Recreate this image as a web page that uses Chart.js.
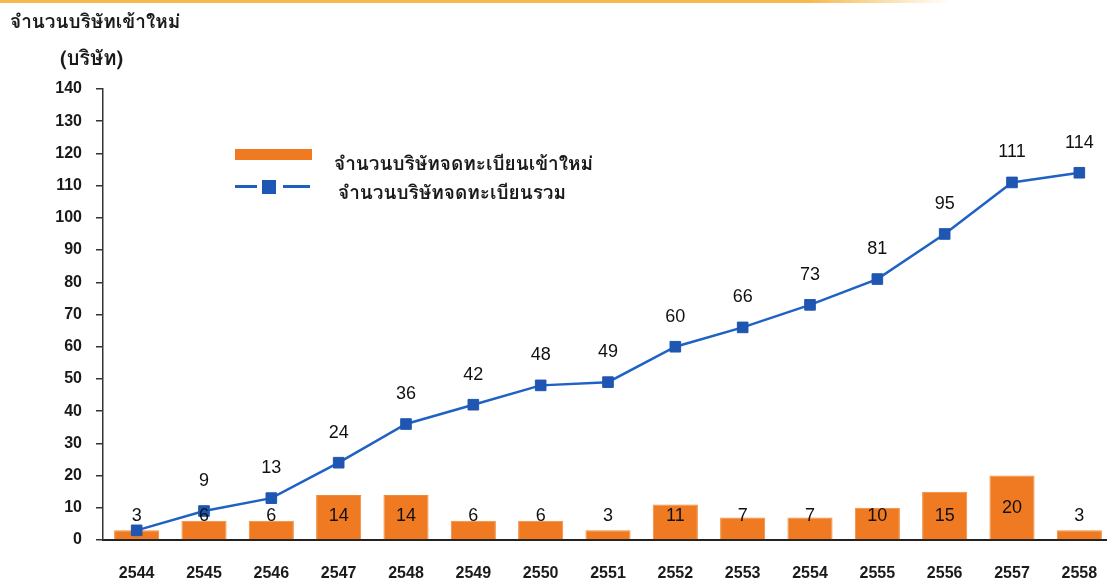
<!DOCTYPE html>
<html>
<head>
<meta charset="utf-8">
<script src="https://cdn.jsdelivr.net/npm/chart.js@4/dist/chart.umd.min.js"></script>
<style>
  html,body{margin:0;padding:0;background:#fff;overflow:hidden;width:1107px;height:581px;}
  #wrap{position:relative;width:1113px;height:581px;overflow:hidden;}
  #topline{position:absolute;left:0;top:0;width:950px;height:3px;background:linear-gradient(to right,#f6b94c 0%,#f6b94c 85%,rgba(246,185,76,0) 100%);}
  .thai{font-family:"Garuda","Loma","Waree","Norasi","Kinnari","Noto Sans Thai Looped","Noto Serif Thai","Tahoma","Noto Sans Thai",sans-serif;font-weight:bold;color:#1a1a1a;position:absolute;white-space:nowrap;}
  #t1{left:10px;top:6px;font-size:19px;}
  #t2{left:60px;top:42px;font-size:20px;}
  #leg1sw{position:absolute;left:235px;top:149px;width:77px;height:11px;background:#f07a22;}
  #leg2ln1{position:absolute;left:235px;top:185px;width:22px;height:3px;background:#1f5fc0;}
  #leg2sq{position:absolute;left:262px;top:180px;width:14px;height:14px;background:#1f58b4;}
  #leg2ln2{position:absolute;left:283px;top:185px;width:27px;height:3px;background:#1f5fc0;}
  #l1{left:334px;top:148px;font-size:19px;}
  #l2{left:338px;top:177px;font-size:19px;}
  canvas{position:absolute;left:0;top:0;}
</style>
</head>
<body>
<div id="wrap">
  <canvas id="c" width="1113" height="581"></canvas>
  <div id="topline"></div>
  <div class="thai" id="t1">จำนวนบริษัทเข้าใหม่</div>
  <div class="thai" id="t2">(บริษัท)</div>
  <div id="leg1sw"></div>
  <div class="thai" id="l1">จำนวนบริษัทจดทะเบียนเข้าใหม่</div>
  <div id="leg2ln1"></div><div id="leg2sq"></div><div id="leg2ln2"></div>
  <div class="thai" id="l2">จำนวนบริษัทจดทะเบียนรวม</div>
</div>
<script>
const categories = ['2544','2545','2546','2547','2548','2549','2550','2551','2552','2553','2554','2555','2556','2557','2558'];
const newCompanies = [3,6,6,14,14,6,6,3,11,7,7,10,15,20,3];
const totalCompanies = [3,9,13,24,36,42,48,49,60,66,73,81,95,111,114];
const yTicks = [0,10,20,30,40,50,60,70,80,90,100,110,120,130,140];

const labelPlugin = {
  id: 'valueLabels',
  afterDatasetsDraw(chart) {
    const ctx = chart.ctx;
    const y = chart.scales.y;
    ctx.save();
    ctx.fillStyle = '#111';
    ctx.textAlign = 'center';
    ctx.textBaseline = 'middle';
    ctx.font = '18px "Liberation Sans", Arial, sans-serif';
    // bar labels
    const barMeta = chart.getDatasetMeta(1);
    barMeta.data.forEach((el, i) => {
      const v = newCompanies[i];
      const py = y.getPixelForValue(Math.max(v / 2, 7.5));
      ctx.fillText(String(v), el.x, py);
    });
    // line labels (first point shares the label with its bar)
    const lineMeta = chart.getDatasetMeta(0);
    lineMeta.data.forEach((el, i) => {
      if (i === 0) return;
      ctx.fillText(String(totalCompanies[i]), el.x, el.y - 30);
    });
    ctx.restore();
  }
};

new Chart(document.getElementById('c'), {
  data: {
    labels: categories,
    datasets: [
      {
        type: 'line',
        label: 'จำนวนบริษัทจดทะเบียนรวม',
        data: totalCompanies,
        borderColor: '#1f62c4',
        borderWidth: 2.5,
        pointStyle: 'rect',
        pointRadius: 7.5,
        pointBackgroundColor: '#1f56b2',
        pointBorderColor: '#1f56b2',
        pointBorderWidth: 1,
        tension: 0,
        order: 0
      },
      {
        type: 'bar',
        label: 'จำนวนบริษัทจดทะเบียนเข้าใหม่',
        data: newCompanies,
        backgroundColor: '#f07a22',
        borderColor: '#f08a3a',
        borderWidth: 1,
        barPercentage: 0.67,
        categoryPercentage: 1,
        order: 1
      }
    ]
  },
  options: {
    responsive: false,
    animation: false,
    devicePixelRatio: 1,
    layout: { autoPadding: false, padding: { top: 89, left: 0, right: 0, bottom: 0 } },
    plugins: { legend: { display: false }, tooltip: { enabled: false }, title: { display: false } },
    scales: {
      x: {
        grid: { display: false, drawTicks: false },
        border: { display: true, color: '#222', width: 2 },
        ticks: { color: '#1a1a1a', padding: 24, font: { family: '"Liberation Sans", Arial, sans-serif', size: 16, weight: 'bold' }, maxRotation: 0 },
        afterFit(s) { s.height = 41; s.paddingLeft = 0; s.paddingRight = 0; }
      },
      y: {
        min: 0, max: 140,
        afterBuildTicks(s) { s.ticks = yTicks.map(v => ({ value: v })); },
        grid: { display: true, drawOnChartArea: false, drawTicks: true, tickLength: 7, color: '#333', lineWidth: 1.5 },
        border: { display: true, color: '#333', width: 1.5 },
        ticks: { color: '#1a1a1a', padding: 14, font: { family: '"Liberation Sans", Arial, sans-serif', size: 16, weight: 'bold' } },
        afterFit(s) { s.width = 103; s.paddingTop = 0; s.paddingBottom = 0; }
      }
    }
  },
  plugins: [labelPlugin]
});
</script>
</body>
</html>
